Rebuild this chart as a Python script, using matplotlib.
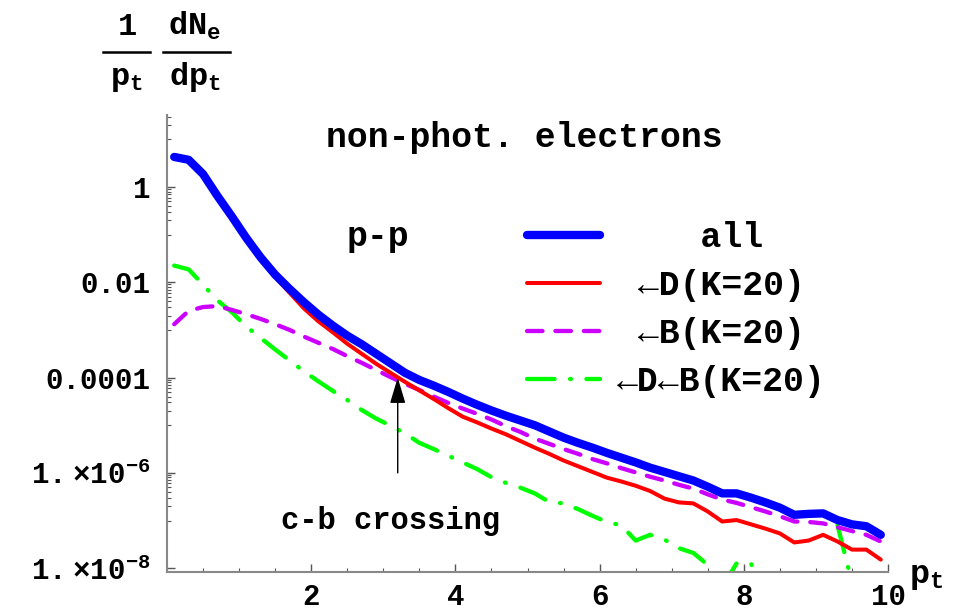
import numpy as np
import matplotlib
matplotlib.use("Agg")
import matplotlib.pyplot as plt
from matplotlib.lines import Line2D

plt.rcParams['font.family'] = ['Liberation Mono', 'DejaVu Sans']
plt.rcParams['font.weight'] = 'bold'
plt.rcParams['mathtext.fontset'] = 'custom'
plt.rcParams['mathtext.rm'] = 'Liberation Mono:bold'
plt.rcParams['mathtext.it'] = 'Liberation Mono:bold'
plt.rcParams['mathtext.bf'] = 'Liberation Mono:bold'

# transverse momentum grid
pt = [0.1, 0.3, 0.5, 0.7, 0.9, 1.1, 1.3, 1.5, 1.7, 1.9,
      2.1, 2.3, 2.5, 2.7, 2.9, 3.1, 3.3, 3.5, 3.7, 3.9,
      4.1, 4.3, 4.5, 4.7, 4.9, 5.1, 5.3, 5.5, 5.7, 5.9,
      6.1, 6.3, 6.5, 6.7, 6.9, 7.1, 7.3, 7.5, 7.7, 7.9,
      8.1, 8.3, 8.5, 8.7, 8.9, 9.1, 9.3, 9.5, 9.7, 9.9]

# log10 of 1/pt dN/dpt
log_all = [0.63, 0.57, 0.27, -0.19, -0.62, -1.07, -1.48, -1.84, -2.14, -2.42,
           -2.68, -2.91, -3.12, -3.30, -3.50, -3.70, -3.90, -4.05, -4.17, -4.30,
           -4.44, -4.57, -4.69, -4.80, -4.90, -5.00, -5.13, -5.26, -5.37, -5.47,
           -5.58, -5.68, -5.78, -5.89, -5.98, -6.07, -6.16, -6.29, -6.43, -6.43,
           -6.52, -6.62, -6.73, -6.88, -6.86, -6.85, -6.99, -7.08, -7.12, -7.30]

log_d = [0.62, 0.56, 0.26, -0.20, -0.64, -1.09, -1.51, -1.89, -2.22, -2.55,
         -2.82, -3.05, -3.29, -3.50, -3.71, -3.90, -4.09, -4.27, -4.45, -4.64,
         -4.82, -4.94, -5.07, -5.19, -5.33, -5.47, -5.60, -5.74, -5.86, -5.98,
         -6.10, -6.18, -6.27, -6.38, -6.54, -6.62, -6.64, -6.81, -7.02, -6.99,
         -7.08, -7.17, -7.27, -7.46, -7.42, -7.30, -7.44, -7.61, -7.61, -7.82]

log_b = [-2.88, -2.60, -2.52, -2.50, -2.58, -2.67, -2.77, -2.88, -3.00, -3.14,
         -3.27, -3.40, -3.55, -3.69, -3.84, -3.99, -4.13, -4.26, -4.40, -4.53,
         -4.65, -4.76, -4.88, -5.02, -5.14, -5.28, -5.39, -5.50, -5.60, -5.71,
         -5.80, -5.90, -5.99, -6.08, -6.16, -6.25, -6.33, -6.45, -6.56, -6.63,
         -6.72, -6.81, -6.91, -7.02, -7.03, -7.06, -7.14, -7.22, -7.30, -7.44]

log_db = [-1.65, -1.73, -2.05, -2.38, -2.63, -2.93, -3.17, -3.41, -3.64, -3.87,
          -4.08, -4.28, -4.47, -4.68, -4.86, -5.01, -5.17, -5.37, -5.50, -5.64,
          -5.78, -5.92, -6.09, -6.21, -6.31, -6.43, -6.61, -6.64, -6.76, -6.90,
          -7.03, -7.10, -7.42, -7.30, -7.40, -7.58, -7.68, -7.93, -8.40, -7.90,
          -7.90, -8.60, np.nan, np.nan, np.nan, np.nan, -7.10, -8.30, np.nan, np.nan]

labels = ['    all', ' \u2190D(K=20)', ' \u2190B(K=20)', '\u2190D\u2190B(K=20)']

y_all = 10.0 ** np.array(log_all)
y_d = 10.0 ** np.array(log_d)
y_b = 10.0 ** np.array(log_b)
y_db = 10.0 ** np.array(log_db)

fig = plt.figure(figsize=(9.56, 6.11), dpi=100)
ax = fig.add_axes([167/956, 1-572/611, (888-167)/956, (572-115)/611])

l_db, = ax.plot(pt, y_db, color='#00ff00', lw=3.1, dashes=(6.4, 3.6, 0.2, 3.6),
                dash_capstyle='round')
l_b, = ax.plot(pt, y_b, color='#cc00ff', lw=3.1, dashes=(3.6, 3.0),
               dash_capstyle='round')
l_d, = ax.plot(pt, y_d, color='#ff0000', lw=2.9, solid_capstyle='round')
l_all, = ax.plot(pt, y_all, color='#0000ff', lw=6, solid_capstyle='round',
                 solid_joinstyle='round')

ax.set_yscale('log')
ax.set_xticks([2, 4, 6, 8, 10])
ax.set_xticks(np.arange(0.5, 10, 0.5), minor=True)
ax.set_yticks([1, 1e-2, 1e-4, 1e-6, 1e-8])
ax.set_yticklabels(['1', '0.01', '0.0001', r'$\mathrm{1.\,×10^{-6}}$',
                    r'$\mathrm{1.\,×10^{-8}}$'])
ax.set_yticks([m * 10.0**e for e in (1, -1, -3, -5, -7) for m in range(1, 10)],
              minor=True)
ax.yaxis.set_minor_formatter(plt.NullFormatter())
ax.set_xlim(0, 10)
ax.set_ylim(10**-8.08, 10**1.51)

for s in ['top', 'right']:
    ax.spines[s].set_visible(False)
for s in ['left', 'bottom']:
    ax.spines[s].set_color('#888888')
    ax.spines[s].set_linewidth(1.5)
ax.tick_params(which='both', direction='in', color='#555555', labelsize=21)
ax.tick_params(which='major', length=6, width=1)
ax.tick_params(which='minor', length=3, width=0.8)
ax.tick_params(axis='x', which='major', pad=8)
ax.tick_params(axis='y', which='major', pad=12)

ax.text(4.96, 10**1.03, 'non-phot. electrons', ha='center', va='center', fontsize=25)
ax.text(2.92, 10**-1.03, 'p-p', ha='center', va='center', fontsize=25)
ax.text(3.1, 10**-7.02, 'c-b crossing', ha='center', va='center', fontsize=22)
ax.annotate('', xy=(3.2, 1e-4), xytext=(3.2, 1e-6),
            arrowprops=dict(arrowstyle='-|>,head_length=0.8,head_width=0.24',
                            color='black', lw=1, mutation_scale=20,
                            shrinkA=0, shrinkB=0))

ax.legend(handles=[l_all, l_d, l_b, l_db], labels=labels, loc='upper left',
          bbox_to_anchor=((527-167)/721, (572-221)/457), frameon=False,
          fontsize=25, handlelength=2.1, handletextpad=0.5, borderpad=0,
          borderaxespad=0, labelspacing=0.43)

# y axis label as a fraction
fig.text(127/956, 1-35/611, '1', ha='center', va='baseline', fontsize=23)
fig.text(195/956, 1-35/611, r'$\mathrm{dN_e}$', ha='center', va='baseline', fontsize=23)
fig.text(126/956, 1-85/611, r'$\mathrm{p_t}$', ha='center', va='baseline', fontsize=23)
fig.text(195/956, 1-85/611, r'$\mathrm{dp_t}$', ha='center', va='baseline', fontsize=23)
fig.add_artist(Line2D([103/956, 150/956], [1-51.7/611]*2, color='black', lw=1.8))
fig.add_artist(Line2D([163/956, 230/956], [1-51.7/611]*2, color='black', lw=1.8))
fig.text(909/956, 1-583/611, r'$\mathrm{p_t}$', ha='left', va='baseline', fontsize=24)

fig.savefig('out.png', dpi=100, facecolor='white')
